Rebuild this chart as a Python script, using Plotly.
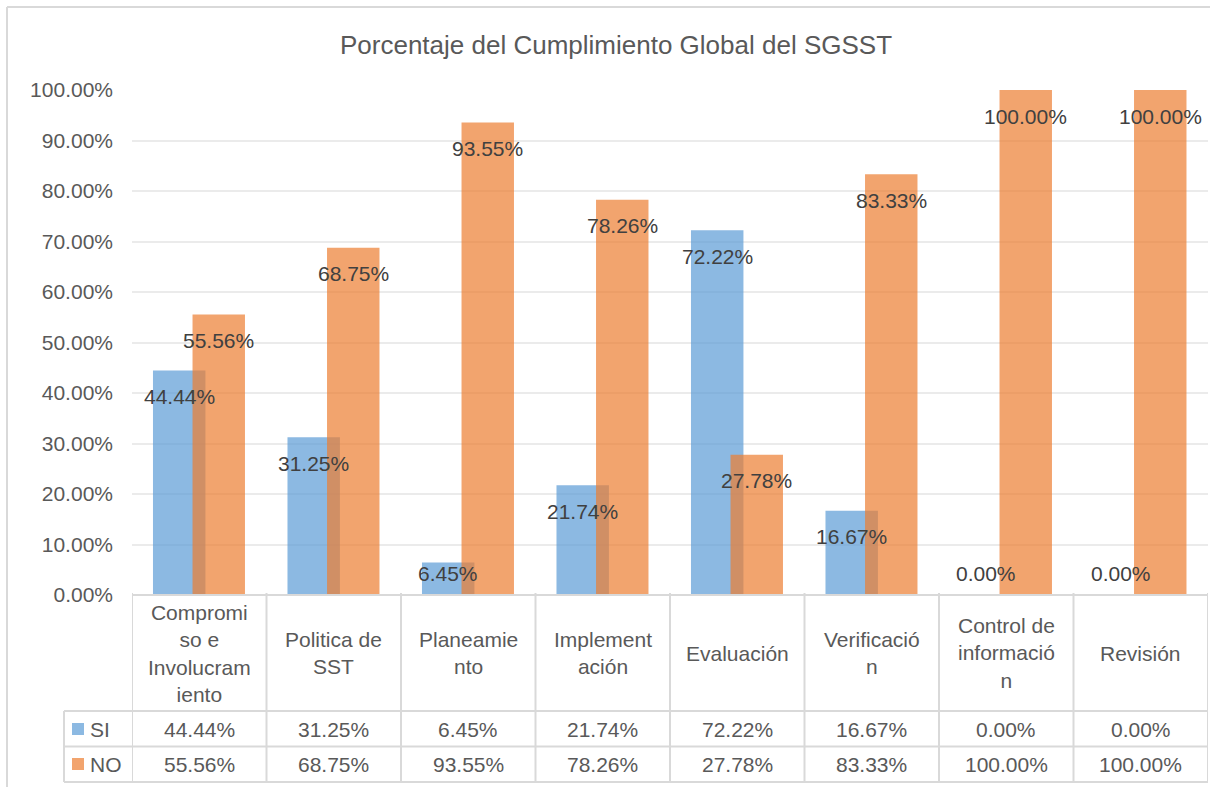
import plotly.graph_objects as go

categories = ["Compromiso e Involucramiento", "Politica de SST", "Planeamiento", "Implementación",
              "Evaluación", "Verificación", "Control de información", "Revisión"]
header_labels = ["Compromi<br>so e<br>Involucram<br>iento", "Politica de<br>SST", "Planeamie<br>nto",
                 "Implement<br>ación", "Evaluación", "Verificació<br>n", "Control de<br>informació<br>n", "Revisión"]
si_values = [0.4444, 0.3125, 0.0645, 0.2174, 0.7222, 0.1667, 0.0, 0.0]
no_values = [0.5556, 0.6875, 0.9355, 0.7826, 0.2778, 0.8333, 1.0, 1.0]
series_names = ["SI", "NO"]
title_text = "Porcentaje del Cumplimiento Global del SGSST"

SI_COLOR = "rgba(91,155,213,0.7)"
NO_COLOR = "rgba(237,125,49,0.7)"
TEXT = "#595959"
LABEL = "#404040"
LINE = "#D9D9D9"
FONT = "Liberation Sans, Arial, sans-serif"
FS = 21

W, H = 1232, 787
L, R, T, B = 132, 24, 90, 192
plot_h = H - T - B
plot_w = W - L - R


def py(px):  # pixel y -> paper y
    return (H - B - px) / plot_h


def pxp(px):  # pixel x -> paper x
    return (px - L) / plot_w


fig = go.Figure()
BW = 0.39
fig.add_trace(go.Bar(x=categories, y=si_values, name=series_names[0], width=BW, offset=-0.344,
                     marker=dict(color=SI_COLOR, line=dict(width=0)), showlegend=False))
fig.add_trace(go.Bar(x=categories, y=no_values, name=series_names[1], width=BW, offset=-0.05,
                     marker=dict(color=NO_COLOR, line=dict(width=0)), showlegend=False))

annotations = []
# data labels
for vals, xs in ((si_values, -20), (no_values, 19.5)):
    for c, v in zip(categories, vals):
        if v * plot_h < 48:
            y, ys = 0, 22
        else:
            y, ys = v, -26
        annotations.append(dict(x=c, y=y, xref="x", yref="y", xshift=xs, yshift=ys,
                                text=f"{v*100:.2f}%", showarrow=False,
                                font=dict(family=FONT, size=FS, color=LABEL)))

# table text
for c, h, s, n in zip(categories, header_labels, si_values, no_values):
    annotations.append(dict(x=c, y=py(653), xref="x", yref="paper", text=h, showarrow=False,
                            yanchor="middle", font=dict(family=FONT, size=FS, color=TEXT)))
    annotations.append(dict(x=c, y=py(729), xref="x", yref="paper", text=f"{s*100:.2f}%", showarrow=False,
                            yanchor="middle", font=dict(family=FONT, size=FS, color=TEXT)))
    annotations.append(dict(x=c, y=py(764), xref="x", yref="paper", text=f"{n*100:.2f}%", showarrow=False,
                            yanchor="middle", font=dict(family=FONT, size=FS, color=TEXT)))

for name, ypix in zip(series_names, (729, 764)):
    annotations.append(dict(x=pxp(88), y=py(ypix), xref="paper", yref="paper", text=name, showarrow=False,
                            xanchor="left", yanchor="middle", font=dict(family=FONT, size=FS, color=TEXT)))

shapes = []
# legend keys
for col, ypix in zip((SI_COLOR, NO_COLOR), (729, 764)):
    shapes.append(dict(type="rect", xref="paper", yref="paper", x0=pxp(72), x1=pxp(84),
                       y0=py(ypix + 6), y1=py(ypix - 6), fillcolor=col, line=dict(width=0)))

lw = 2
# horizontal table lines
shapes.append(dict(type="line", xref="paper", yref="paper", x0=0, x1=1, y0=0, y1=0, line=dict(color=LINE, width=lw)))
for ypix in (711, 746.5, 782):
    shapes.append(dict(type="line", xref="paper", yref="paper", x0=pxp(64), x1=1, y0=py(ypix), y1=py(ypix),
                       line=dict(color=LINE, width=lw)))
# vertical table lines
for i in range(len(categories) + 1):
    shapes.append(dict(type="line", xref="x", yref="paper", x0=i - 0.5, x1=i - 0.5, y0=py(593), y1=py(782),
                       line=dict(color=LINE, width=lw)))
shapes.append(dict(type="line", xref="paper", yref="paper", x0=pxp(64), x1=pxp(64), y0=py(711), y1=py(782),
                   line=dict(color=LINE, width=lw)))
# chart border (top and left)
shapes.append(dict(type="line", xref="paper", yref="paper", x0=pxp(7), x1=pxp(1210), y0=py(7), y1=py(7),
                   line=dict(color=LINE, width=2)))
shapes.append(dict(type="line", xref="paper", yref="paper", x0=pxp(7), x1=pxp(7), y0=py(7), y1=py(790),
                   line=dict(color=LINE, width=2)))

fig.update_layout(
    width=W, height=H,
    margin=dict(l=L, r=R, t=T, b=B, pad=0),
    paper_bgcolor="white", plot_bgcolor="white",
    barmode="overlay",
    title=dict(text=title_text, x=0.5, xanchor="center", y=1 - 45 / H, yanchor="middle",
               yref="container", font=dict(family=FONT, size=26, color=TEXT)),
    xaxis=dict(range=[-0.5, 7.5], showticklabels=False, showgrid=False, showline=False, zeroline=False,
               ticks=""),
    yaxis=dict(range=[0, 1], dtick=0.1, tickformat=".2%", showgrid=True, gridcolor="#EBEBEB", gridwidth=1.5,
               zeroline=False, showline=False, ticks="", ticklabelstandoff=18,
               tickfont=dict(family=FONT, size=FS, color=TEXT)),
    annotations=annotations,
    shapes=shapes,
    showlegend=False,
)

fig.write_html("out.html", config={"displayModeBar": False},
               post_script="document.body.style.margin='0';document.body.style.overflow='hidden';")
